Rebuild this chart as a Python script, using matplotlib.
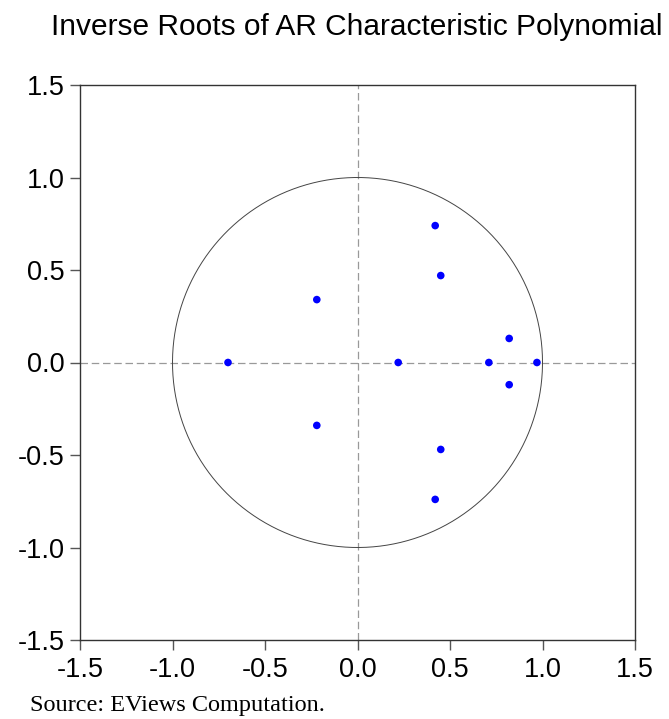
import numpy as np
import matplotlib
matplotlib.use("Agg")
import matplotlib.pyplot as plt

root_re = [-0.70, -0.22, -0.22, 0.22, 0.42, 0.45, 0.45, 0.42, 0.71, 0.82, 0.82, 0.97]
root_im = [0.00, 0.34, -0.34, 0.00, 0.74, 0.47, -0.47, -0.74, 0.00, 0.13, -0.12, 0.00]
ticks = [-1.5, -1.0, -0.5, 0.0, 0.5, 1.0, 1.5]
tick_labels = ["-1.5", "-1.0", "-0.5", "0.0", "0.5", "1.0", "1.5"]

plt.rcParams['font.family'] = ['Liberation Sans', 'DejaVu Sans']

fig = plt.figure(figsize=(6.69, 7.19), dpi=100)
ax = fig.add_axes([80/669, 1-640/719, 555/669, 555/719])

theta = np.linspace(0, 2*np.pi, 500)
ax.plot(np.cos(theta), np.sin(theta), color='#444444', lw=0.7, zorder=2)
ax.axhline(0, color='#999999', lw=0.9, ls=(0, (6, 3)), zorder=1)
ax.axvline(0, color='#999999', lw=0.9, ls=(0, (6, 3)), zorder=1)
ax.scatter(root_re, root_im, s=30, color='#0000ff', edgecolors='none', zorder=3)

ax.set_xlim(-1.5, 1.5)
ax.set_ylim(-1.5, 1.5)
ax.set_xticks(ticks)
ax.set_xticklabels(tick_labels)
ax.set_yticks(ticks)
ax.set_yticklabels(tick_labels)
ax.tick_params(axis='both', direction='out', length=7, width=1, color='#555555',
               labelsize=19.5, top=False, right=False, pad=4)
ax.tick_params(axis='x', pad=5)
for s in ax.spines.values():
    s.set_color('#333333')
    s.set_linewidth(1.0)

fig.text(357/669, 1-27/719, "Inverse Roots of AR Characteristic Polynomial",
         ha='center', va='center', fontsize=21.5)
fig.text(30/669, 1-706/719, "Source: EViews Computation.", ha='left', va='center',
         fontsize=17.5, family=['Liberation Serif', 'DejaVu Serif'])

fig.savefig("out.png", dpi=100)
